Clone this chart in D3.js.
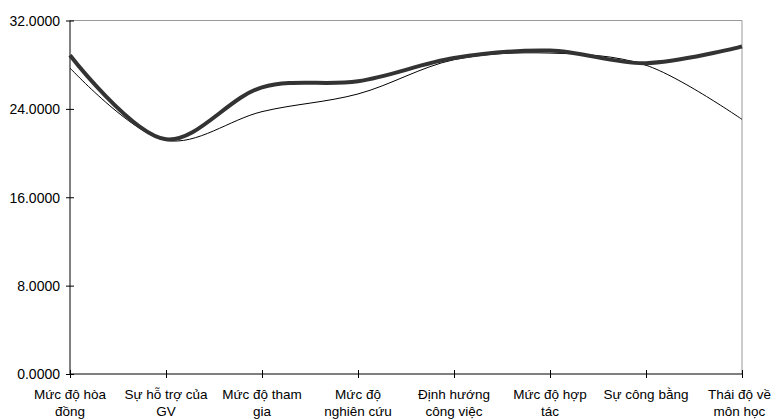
<!DOCTYPE html>
<html><head><meta charset="utf-8">
<script src="https://cdn.jsdelivr.net/npm/d3@7"></script>
<style>body{margin:0;background:#fff}svg{display:block}</style>
</head><body>
<svg id="c" width="772" height="420"></svg>
<script>
const categories = [
  ["Mức độ hòa","đồng"],
  ["Sự hỗ trợ của","GV"],
  ["Mức độ tham","gia"],
  ["Mức độ","nghiên cứu"],
  ["Định hướng","công việc"],
  ["Mức độ hợp","tác"],
  ["Sự công bằng"],
  ["Thái độ về","môn học"]
];
const seriesThick = [28.85, 21.25, 25.95, 26.5, 28.6, 29.28, 28.14, 29.65];
const seriesThin  = [27.7, 21.15, 23.75, 25.35, 28.45, 29.05, 27.95, 23.05];
const yTicks = [0, 8, 16, 24, 32];

const W = 772;
const svg = d3.select("#c");
const mLeft = 70, mRight = 742, mTop = 20.5, mBottom = 374;
const x = d3.scalePoint().domain(d3.range(categories.length)).range([mLeft, mRight]);
const y = d3.scaleLinear().domain([0, 32]).range([mBottom, mTop]);

// frame top & right (light gray)
svg.append("line").attr("x1", mLeft).attr("x2", mRight).attr("y1", mTop).attr("y2", mTop)
  .attr("stroke", "#999").attr("stroke-width", 1);
svg.append("line").attr("x1", mRight).attr("x2", mRight).attr("y1", mTop).attr("y2", mBottom)
  .attr("stroke", "#999").attr("stroke-width", 1);

// y axis
const yAxis = d3.axisLeft(y).tickValues(yTicks).tickSize(4).tickFormat(d3.format(".4f"));
const gy = svg.append("g").attr("transform", `translate(${mLeft},0)`).call(yAxis);
gy.select(".domain").remove();
gy.selectAll(".tick line").attr("x1", -4).attr("x2", 4).attr("stroke", "#000");
gy.selectAll(".tick text").attr("x", -10).attr("dy", "0.35em")
  .attr("font-family", "Liberation Sans, Arial, sans-serif").attr("font-size", 14).attr("fill", "#000");
svg.append("line").attr("x1", mLeft).attr("x2", mLeft).attr("y1", mTop).attr("y2", mBottom)
  .attr("stroke", "#000").attr("stroke-width", 1);

// x axis
const xAxis = d3.axisBottom(x).tickSize(4).tickFormat("");
const gx = svg.append("g").attr("transform", `translate(0,${mBottom})`).call(xAxis);
gx.select(".domain").remove();
gx.selectAll(".tick line").attr("y1", -4).attr("y2", 4).attr("stroke", "#000");
svg.append("line").attr("x1", mLeft).attr("x2", mRight).attr("y1", mBottom).attr("y2", mBottom)
  .attr("stroke", "#000").attr("stroke-width", 1);

// x labels
const lab = svg.append("g").attr("font-family", "Liberation Sans, Arial, sans-serif")
  .attr("font-size", 13.5).attr("fill", "#000").attr("text-anchor", "middle");
categories.forEach((lines, i) => {
  const t = lab.append("text").attr("x", x(i)).attr("y", mBottom + 25);
  lines.forEach((s, j) => t.append("tspan").attr("x", x(i)).attr("dy", j === 0 ? 0 : 17).text(s));
  // keep label inside the canvas
  const bb = t.node().getBBox();
  const overflow = bb.x + bb.width - (W - 1);
  if (overflow > 0) {
    const cx = x(i) - overflow;
    t.attr("x", cx).selectAll("tspan").attr("x", cx);
  }
});

const line = d3.line().x((d, i) => x(i)).y(d => y(d)).curve(d3.curveCatmullRom.alpha(0.5));
svg.append("path").datum(seriesThin).attr("d", line).attr("fill", "none")
  .attr("stroke", "#000").attr("stroke-width", 1);
svg.append("path").datum(seriesThick).attr("d", line).attr("fill", "none")
  .attr("stroke", "#333").attr("stroke-width", 4);
</script>
</body></html>
